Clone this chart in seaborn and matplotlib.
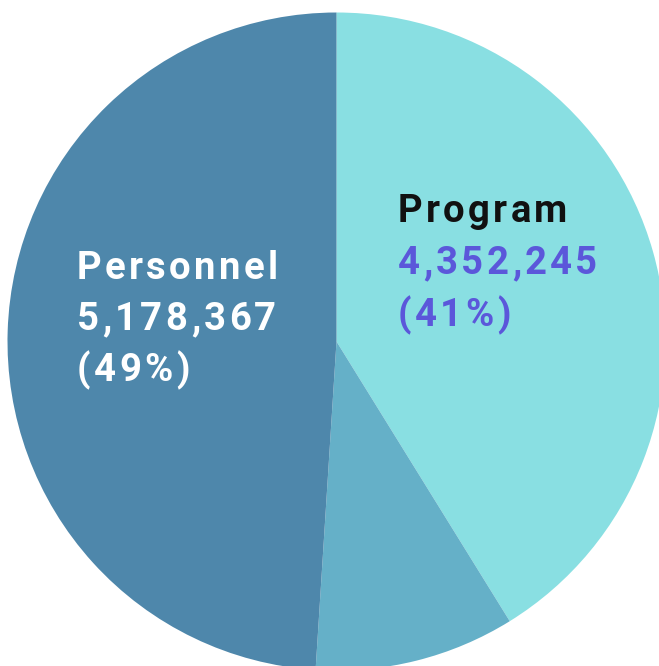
import matplotlib
matplotlib.use("Agg")
import matplotlib.pyplot as plt
import matplotlib.transforms as mtransforms
import seaborn as sns

# data
categories = ["Program", "Other", "Personnel"]
amounts = [4352245, 1040000, 5178367]
slice_colors = ["#89DFE2", "#65B0C8", "#4E87AB"]
labelled = ["Program", "Personnel"]
name_colors = {"Program": "#111111", "Personnel": "#FFFFFF"}
value_colors = {"Program": "#5B57DA", "Personnel": "#FFFFFF"}

sns.set_theme(style="white")
plt.rcParams["font.family"] = ["Roboto", "DejaVu Sans"]
palette = sns.color_palette(slice_colors)

W, H = 659, 666
cx, cy, r = 336.5, 341.5, 329.0  # pie centre / radius in pixels

fig = plt.figure(figsize=(W / 100, H / 100), dpi=100)
ax = fig.add_axes([0, 0, 1, 1])
ax.pie(amounts, colors=palette, startangle=90, counterclock=False,
       radius=1, center=(0, 0), wedgeprops=dict(linewidth=0))
ax.set_aspect("auto")
ax.set_xlim(-cx / r, (W - cx) / r)
ax.set_ylim((cy - H) / r, cy / r)
ax.axis("off")

renderer = fig.canvas.get_renderer()


def spaced_text(x_px, y_px, s, color, size=27.5, tracking=3.3):
    # matplotlib has no letter spacing, so place glyphs one by one
    xd, yd = (x_px - cx) / r, (cy - y_px) / r
    dx = 0.0
    for ch in s:
        tr = mtransforms.offset_copy(ax.transData, fig=fig, x=dx, y=0, units="dots")
        t = ax.text(xd, yd, ch, transform=tr, color=color, fontsize=size,
                    fontweight="bold", ha="left", va="baseline")
        dx += t.get_window_extent(renderer).width + tracking


total = sum(amounts)
anchors = {"Program": (398, [222, 274, 326]), "Personnel": (77, [279, 330, 381])}
for name in labelled:
    v = amounts[categories.index(name)]
    x0, ys = anchors[name]
    pct = round(v / total * 100)
    spaced_text(x0, ys[0], name, name_colors[name])
    spaced_text(x0, ys[1], f"{v:,}", value_colors[name])
    spaced_text(x0, ys[2], f"({pct}%)", value_colors[name])

fig.savefig("out.png", dpi=100, facecolor="white")
